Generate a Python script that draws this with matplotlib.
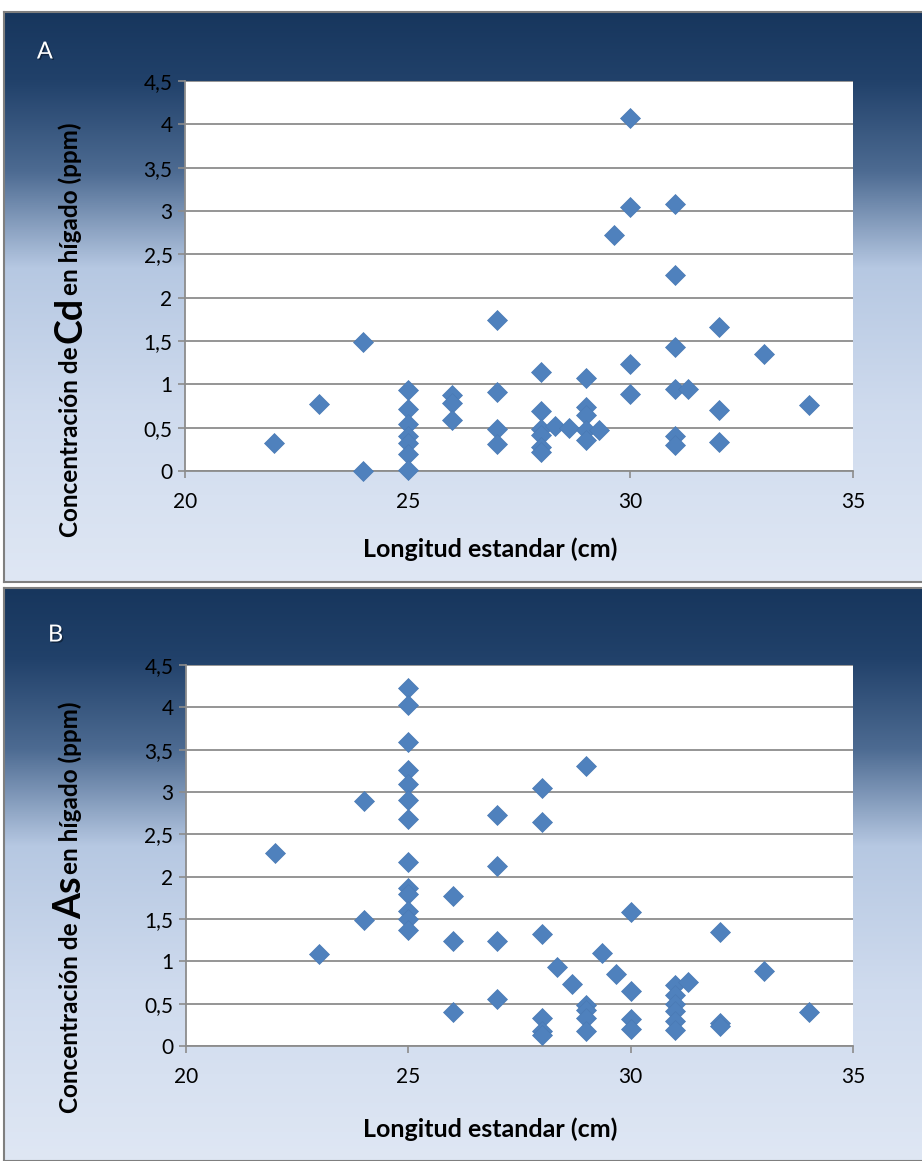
import numpy as np
import matplotlib.pyplot as plt
import matplotlib.patheffects as pe
from matplotlib.colors import LinearSegmentedColormap

plt.rcParams['font.family'] = ['Lato', 'DejaVu Sans']

# Panel A: Cd in liver vs standard length
cd_x = [22, 23, 24, 24,
        25, 25, 25, 25, 25, 25, 25,
        26, 26, 26,
        27, 27, 27, 27,
        28, 28, 28, 28, 28, 28,
        28.3, 28.63,
        29, 29, 29, 29, 29, 29.3, 29.63,
        30, 30, 30, 30,
        31, 31, 31, 31, 31, 31, 31.3,
        32, 32, 32, 33, 34]
cd_y = [0.32, 0.77, 1.49, 0.0,
        0.93, 0.71, 0.54, 0.40, 0.32, 0.20, 0.01,
        0.88, 0.78, 0.59,
        1.74, 0.91, 0.48, 0.31,
        1.14, 0.69, 0.49, 0.42, 0.28, 0.22,
        0.52, 0.50,
        1.07, 0.74, 0.65, 0.47, 0.36, 0.47, 2.72,
        4.07, 3.05, 1.24, 0.89,
        3.08, 2.26, 1.43, 0.95, 0.40, 0.30, 0.95,
        1.66, 0.70, 0.34, 1.35, 0.76]

# Panel B: As in liver vs standard length
as_x = [22, 23, 24, 24,
        25, 25, 25, 25, 25, 25, 25, 25, 25, 25, 25, 25, 25,
        26, 26, 26,
        27, 27, 27, 27,
        28, 28, 28, 28, 28, 28, 28.34, 28.67,
        29, 29, 29, 29, 29, 29.35, 29.67,
        30, 30, 30, 30,
        31, 31, 31, 31, 31, 31, 31.3,
        32, 32, 32, 33, 34]
as_y = [2.28, 1.09, 2.89, 1.49,
        4.23, 4.03, 3.59, 3.26, 3.10, 2.91, 2.68, 2.17, 1.86, 1.80, 1.59, 1.50, 1.37,
        1.77, 1.24, 0.40,
        2.73, 2.12, 1.24, 0.56,
        3.05, 2.64, 1.32, 0.33, 0.18, 0.13, 0.93, 0.73,
        3.31, 0.48, 0.43, 0.33, 0.18, 1.10, 0.85,
        1.58, 0.65, 0.32, 0.20,
        0.72, 0.60, 0.50, 0.41, 0.29, 0.19, 0.76,
        1.35, 0.27, 0.24, 0.88, 0.40]

x_ticks = [20, 25, 30, 35]
y_ticks = np.arange(0, 4.51, 0.5)
y_labels = ['0', '0,5', '1', '1,5', '2', '2,5', '3', '3,5', '4', '4,5']

fig = plt.figure(figsize=(9.22, 11.61), dpi=100)

grad = LinearSegmentedColormap.from_list('bg', [
    (0.0, '#17365d'), (0.12, '#21416a'), (0.28, '#4d6b92'),
    (0.45, '#b6c8e2'), (0.7, '#cfdbee'), (1.0, '#dfe7f4')])


def panel_bg(rect):
    bg = fig.add_axes(rect, zorder=0)
    bg.imshow(np.linspace(0, 1, 256).reshape(-1, 1), aspect='auto', cmap=grad,
              extent=[0, 1, 0, 1], origin='upper')
    bg.set_xticks([])
    bg.set_yticks([])
    for s in bg.spines.values():
        s.set_color('#7f7f7f')
        s.set_linewidth(1.5)
    return bg


def scatter_panel(rect, xs, ys):
    ax = fig.add_axes(rect, zorder=2)
    ax.set_facecolor('white')
    ax.plot(xs, ys, linestyle='none', marker='D', ms=10.5,
            color='#4f81bd', mec='#4a7ab5', mew=0.5, clip_on=False, zorder=3)
    ax.set_xlim(20, 35)
    ax.set_ylim(0, 4.5)
    ax.set_xticks(x_ticks)
    ax.set_yticks(y_ticks)
    ax.set_yticklabels(y_labels)
    ax.grid(axis='y', color='#8c8c8c', linewidth=1.3)
    ax.set_axisbelow(True)
    for s in ['top', 'right']:
        ax.spines[s].set_visible(False)
    for s in ['left', 'bottom']:
        ax.spines[s].set_color('#8c8c8c')
        ax.spines[s].set_linewidth(1.3)
    ax.tick_params(direction='out', length=5, width=1.2, color='#8c8c8c',
                   labelsize=15, pad=4)
    ax.tick_params(axis='x', pad=10)
    return ax


def ylabel_parts(x, yc, elem):
    # y label with the element symbol drawn larger
    mid = fig.text(x, yc, elem, rotation=90, fontsize=27, fontweight='bold',
                   ha='center', va='center', rotation_mode='anchor')
    fig.canvas.draw()
    bb = mid.get_window_extent().transformed(fig.transFigure.inverted())
    fig.text(x, bb.y0 - 0.003, 'Concentración de', rotation=90, fontsize=17.5,
             fontweight='bold', ha='right', va='center', rotation_mode='anchor')
    fig.text(x, bb.y1 + 0.002, 'en hígado (ppm)', rotation=90, fontsize=17.5,
             fontweight='bold', ha='left', va='center', rotation_mode='anchor')


# panel A
panel_bg([0.004, 0.4987, 1.0, 0.491])
scatter_panel([0.2007, 0.5943, 0.7245, 0.3359], cd_x, cd_y)
fig.text(0.532, 1 - 549 / 1161, 'Longitud estandar (cm)', fontsize=18,
         fontweight='bold', ha='center', va='center')
fig.text(0.040, 1 - 52 / 1161, 'A', fontsize=17, color='white', ha='left', va='center',
         path_effects=[pe.withSimplePatchShadow(offset=(1, -1), shadow_rgbFace='#0d1f36', alpha=0.8)])
ylabel_parts(0.076, 1 - 320 / 1161, 'Cd')

# panel B
panel_bg([0.004, 0.0, 1.0, 0.4935])
scatter_panel([0.2017, 0.0991, 0.7235, 0.3281], as_x, as_y)
fig.text(0.532, 1 - 1129 / 1161, 'Longitud estandar (cm)', fontsize=18,
         fontweight='bold', ha='center', va='center')
fig.text(0.052, 1 - 635 / 1161, 'B', fontsize=17, color='white', ha='left', va='center',
         path_effects=[pe.withSimplePatchShadow(offset=(1, -1), shadow_rgbFace='#0d1f36', alpha=0.8)])
ylabel_parts(0.076, 1 - 898 / 1161, 'As')

fig.savefig('out.png', dpi=100)
